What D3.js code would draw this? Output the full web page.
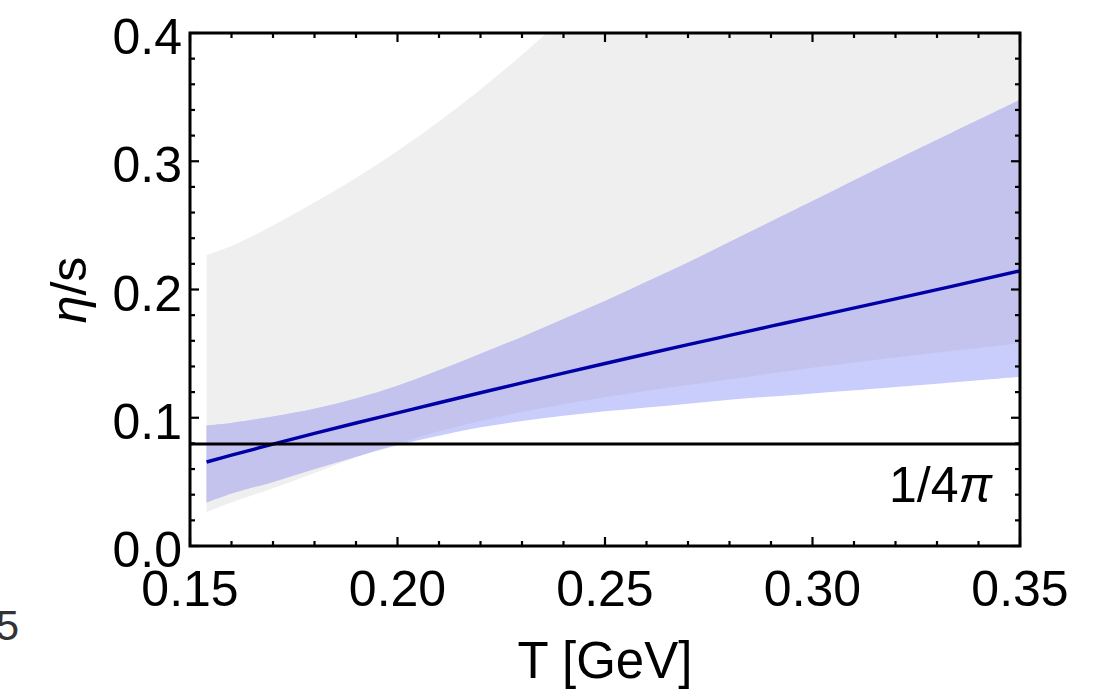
<!DOCTYPE html>
<html>
<head>
<meta charset="utf-8">
<script src="https://cdn.jsdelivr.net/npm/d3@7"></script>
<style>
  html, body { margin: 0; padding: 0; background: #fff; }
  svg { display: block; }
  text { font-family: "Liberation Sans", Arial, Helvetica, sans-serif; fill: #000; }
</style>
</head>
<body>
<svg id="chart" width="1107" height="691"></svg>
<script>
// ---- data ----
const T = [0.154, 0.16, 0.17, 0.18, 0.19, 0.20, 0.21, 0.22, 0.23, 0.24, 0.25, 0.26, 0.27, 0.28, 0.29, 0.30, 0.32, 0.35];
const grayUpper = [0.227, 0.234, 0.250, 0.268, 0.287, 0.308, 0.331, 0.356, 0.383, 0.412, 0.443, 0.476, 0.511, 0.548, 0.587, 0.628, 0.716, 0.860];
const grayLower = [0.0265, 0.034, 0.045, 0.057, 0.069, 0.080, 0.0895, 0.0975, 0.1045, 0.1105, 0.116, 0.121, 0.1255, 0.130, 0.1345, 0.139, 0.147, 0.158];
const blueUpper = [0.094, 0.096, 0.101, 0.107, 0.115, 0.125, 0.137, 0.150, 0.163, 0.177, 0.191, 0.206, 0.221, 0.237, 0.253, 0.269, 0.301, 0.348];
const blueLower = [0.034, 0.041, 0.050, 0.060, 0.0695, 0.0785, 0.086, 0.0925, 0.0975, 0.1015, 0.105, 0.108, 0.111, 0.114, 0.1165, 0.119, 0.124, 0.132];
const central   = [0.0655, 0.0708, 0.0794, 0.0878, 0.0959, 0.1038, 0.1117, 0.1195, 0.1272, 0.1348, 0.1423, 0.1497, 0.1570, 0.1642, 0.1714, 0.1785, 0.1927, 0.2145];
const kssBound = 1 / (4 * Math.PI);
const xTicks = [0.15, 0.20, 0.25, 0.30, 0.35];
const xTickLabels = ["0.15", "0.20", "0.25", "0.30", "0.35"];
const yTicks = [0.0, 0.1, 0.2, 0.3, 0.4];
const yTickLabels = ["0.0", "0.1", "0.2", "0.3", "0.4"];
const xMinor = d3.range(0.15, 0.3501, 0.01);
const yMinor = d3.range(0, 0.4001, 0.02);

// ---- layout ----
const L = 190, R = 1020, TOP = 33, B = 546;
const svg = d3.select("#chart");
const x = d3.scaleLinear().domain([0.15, 0.35]).range([L, R]);
const y = d3.scaleLinear().domain([0, 0.4]).range([B, TOP]);

svg.append("defs").append("clipPath").attr("id", "plotclip")
  .append("rect").attr("x", L).attr("y", TOP).attr("width", R - L).attr("height", B - TOP);

const idx = d3.range(T.length);
const g = svg.append("g").attr("clip-path", "url(#plotclip)");
const curve = d3.curveCatmullRom.alpha(0.5);

const area = (lo, hi) => d3.area().curve(curve)
  .x(i => x(T[i])).y0(i => y(lo(i))).y1(i => y(hi(i)));

// gray band
g.append("path").attr("d", area(i => grayLower[i], i => grayUpper[i])(idx)).attr("fill", "#efefef");
// blue band
g.append("path").attr("d", area(i => blueLower[i], i => blueUpper[i])(idx)).attr("fill", "#c8cdfb");
// overlap region
g.append("path").attr("d", area(i => Math.max(grayLower[i], blueLower[i]), i => Math.min(grayUpper[i], blueUpper[i]))(idx))
  .attr("fill", "#c4c3ee");
// central line
g.append("path").attr("d", d3.line().curve(curve).x(i => x(T[i])).y(i => y(central[i]))(idx))
  .attr("fill", "none").attr("stroke", "#0000a6").attr("stroke-width", 3.4);
// 1/4pi line
svg.append("line").attr("x1", L).attr("x2", R).attr("y1", y(kssBound)).attr("y2", y(kssBound))
  .attr("stroke", "#000").attr("stroke-width", 3);

// ---- axes (ticks inward, mirrored) ----
const tickLen = (v, majors) => majors.some(m => Math.abs(m - v) < 1e-9) ? 9 : 5;
const ax = svg.append("g").attr("stroke", "#000").attr("stroke-width", 2.2);
xMinor.forEach(v => {
  const len = tickLen(v, xTicks);
  ax.append("line").attr("x1", x(v)).attr("x2", x(v)).attr("y1", B).attr("y2", B - len);
  ax.append("line").attr("x1", x(v)).attr("x2", x(v)).attr("y1", TOP).attr("y2", TOP + len);
});
yMinor.forEach(v => {
  const len = tickLen(v, yTicks);
  ax.append("line").attr("x1", L).attr("x2", L + len).attr("y1", y(v)).attr("y2", y(v));
  ax.append("line").attr("x1", R).attr("x2", R - len).attr("y1", y(v)).attr("y2", y(v));
});
svg.append("rect").attr("x", L).attr("y", TOP).attr("width", R - L).attr("height", B - TOP)
  .attr("fill", "none").attr("stroke", "#000").attr("stroke-width", 3);

// tick labels
svg.append("g").selectAll("text").data(xTicks).join("text")
  .attr("x", d => x(d)).attr("y", 606).attr("text-anchor", "middle")
  .style("font-size", "50px").text((d, i) => xTickLabels[i]);
svg.append("g").selectAll("text").data(yTicks).join("text")
  .attr("x", 182).attr("y", d => y(d) + 21).attr("text-anchor", "end")
  .style("font-size", "50px").text((d, i) => yTickLabels[i]);

// axis titles
svg.append("text").attr("x", 605).attr("y", 678).attr("text-anchor", "middle")
  .style("font-size", "51px").text("T [GeV]");
const yt = svg.append("text").attr("transform", "translate(86,290) rotate(-90)")
  .attr("text-anchor", "middle").style("font-size", "50px");
yt.append("tspan").style("font-style", "italic").text("η");
yt.append("tspan").text("/s");

// 1/4pi label
const kl = svg.append("text").attr("x", 992).attr("y", 502).attr("text-anchor", "end").style("font-size", "50px");
kl.append("tspan").text("1/4");
kl.append("tspan").style("font-style", "italic").text("π");

// stray label from neighbouring panel
svg.append("text").attr("x", 19).attr("y", 640).attr("text-anchor", "end")
  .style("font-size", "42px").style("fill", "#333").text("5");
</script>
</body>
</html>
